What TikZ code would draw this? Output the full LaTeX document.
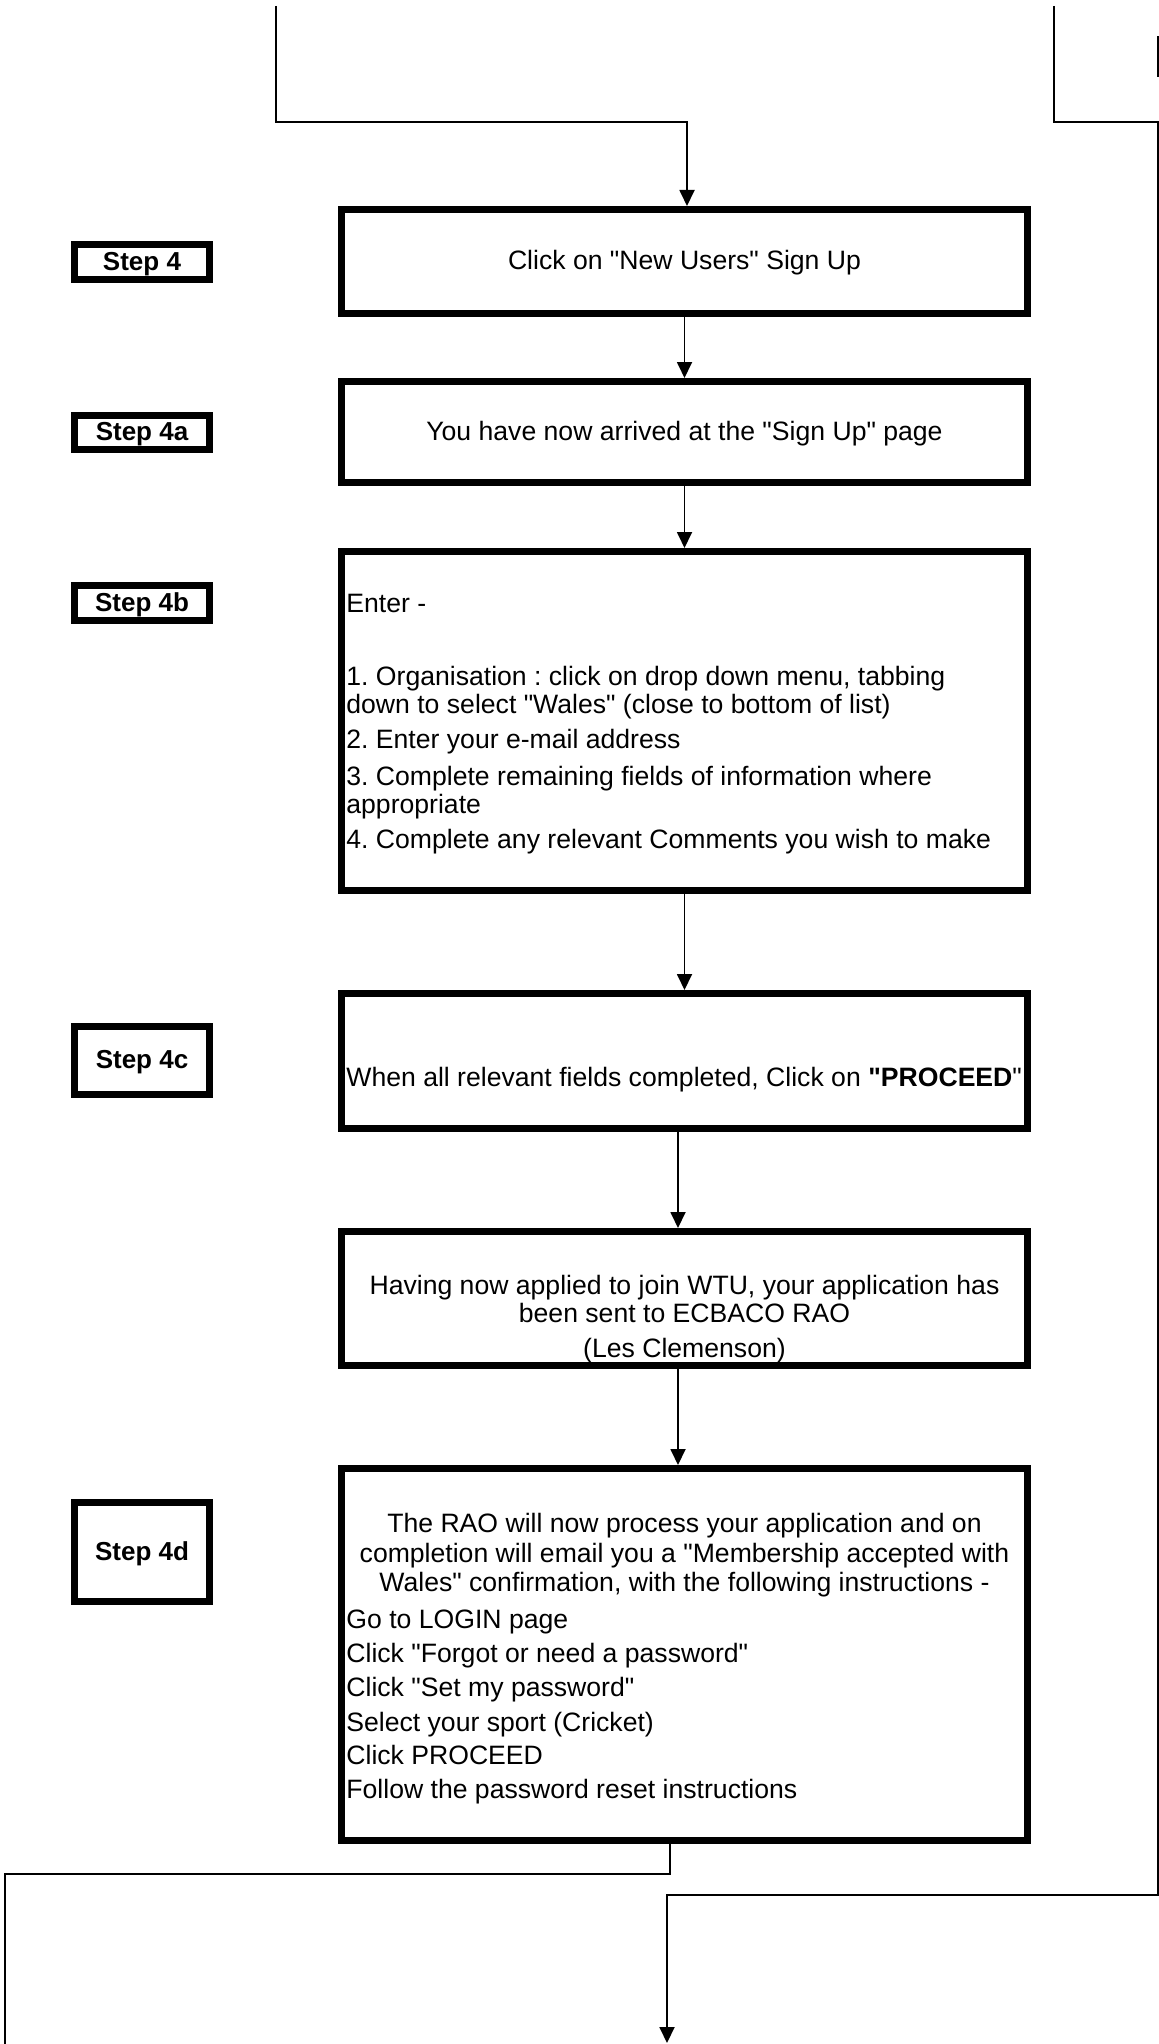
\documentclass[tikz,border=0pt]{standalone}
\usepackage{fontspec}
\setmainfont{Liberation Sans}[Ligatures=TeXOff]
\usetikzlibrary{arrows.meta}
\frenchspacing
\begin{document}
\begin{tikzpicture}[x=0.5pt,y=-0.5pt,
  every node/.style={inner sep=0pt, font=\fontsize{13.3}{14}\selectfont},
  box/.style={draw, line width=3.5pt, minimum width=343pt},
  boxtext/.style={text height=9.4pt, text depth=1pt},
  stepbox/.style={draw, line width=3.5pt, minimum width=67.5pt,
    font=\fontsize{13}{14}\selectfont\bfseries, text height=9.4pt, text depth=0.8pt},
  ln/.style={line width=0.9pt},
  arr/.style={line width=0.9pt, -{Triangle[length=8pt,width=7.5pt]}},
  txt/.style={anchor=base west},
  ctxt/.style={anchor=base}]
\useasboundingbox (0,0) rectangle (1159,2044);

% main boxes
\node[box, boxtext, minimum height=52pt]    (b1)  at (684.5,261.5)  {Click on "New Users" Sign Up};
\node[box, boxtext, minimum height=50.5pt]  (b4a) at (684.5,432)    {You have now arrived at the "Sign Up" page};
\node[box, minimum height=169.25pt]         (b4b) at (684.5,720.75) {};
\node[box, minimum height=67.25pt]          (b4c) at (684.5,1060.75) {};
\node[box, minimum height=67pt]             (bw)  at (684.5,1298.5) {};
\node[box, minimum height=186pt]            (b4d) at (684.5,1654.5) {};

% step labels
\node[stepbox, minimum height=17.35pt] (s4)  at (142,261.9)  {Step 4};
\node[stepbox, minimum height=17pt]    (s4a) at (142,432)    {Step 4a};
\node[stepbox, minimum height=17.25pt] (s4b) at (142,602.75) {Step 4b};
\node[stepbox, minimum height=33.85pt] (s4c) at (142,1060.3) {Step 4c};
\node[stepbox, minimum height=49.5pt]  (s4d) at (142,1552)   {Step 4d};

% texts of box 4b
\foreach \yy/\txtline [count=\i] in {
  612/{Enter -},
  685/{1. Organisation : click on drop down menu, tabbing},
  713/{down to select "Wales" (close to bottom of list)},
  748.5/{2. Enter your e-mail address},
  785/{3. Complete remaining fields of information where},
  813/{appropriate},
  848.5/{4. Complete any relevant Comments you wish to make}}
  \node[txt] (t4b-\i) at (346,\yy) {\txtline};

% text of box 4c
\node[txt] (t4c) at (346,1086) {When all relevant fields completed, Click on \textbf{"PROCEED}"};

% texts of WTU box
\foreach \yy/\txtline [count=\i] in {
  1294.5/{Having now applied to join WTU, your application has},
  1322.5/{been sent to ECBACO RAO},
  1357/{(Les Clemenson)}}
  \node[ctxt] (tw-\i) at (684.5,\yy) {\txtline};

% texts of box 4d
\foreach \yy/\txtline [count=\i] in {
  1532/{The RAO will now process your application and on},
  1562/{completion will email you a "Membership accepted with},
  1591.5/{Wales" confirmation, with the following instructions -}}
  \node[ctxt] (t4dc-\i) at (684.5,\yy) {\txtline};
\foreach \yy/\txtline [count=\i] in {
  1628/{Go to LOGIN page},
  1662.5/{Click "Forgot or need a password"},
  1696.5/{Click "Set my password"},
  1731/{Select your sport (Cricket)},
  1764.5/{Click PROCEED},
  1798/{Follow the password reset instructions}}
  \node[txt] (t4dl-\i) at (346,\yy) {\txtline};

% connector points
\coordinate (tl)  at (276,6);
\coordinate (tlb) at (687,122);
\coordinate (tr)  at (1054,6);
\coordinate (trc) at (1158,122);
\coordinate (bm)  at (667,1895);
\coordinate (bend) at (667,2043);
\coordinate (bl1) at (669.6,1874);
\coordinate (bl2) at (5,2044);

% connectors
\draw[arr] (tl) |- (tlb) -- (tlb |- b1.north);
\draw[arr] (b1) -- (b4a);
\draw[arr] (b4a) -- (b4b);
\draw[arr] (b4b) -- (b4c);
\draw[arr] ([xshift=-3.25pt]b4c.south) -- ([xshift=-3.25pt]bw.north);
\draw[arr] ([xshift=-3.25pt]bw.south) -- ([xshift=-3.25pt]b4d.north);
\draw[ln] ([xshift=-7.45pt]b4d.south) |- (bl1) -| (bl2);
\draw[arr] (tr) |- (trc) |- (bm) -- (bend);

% cut-off fragment at top right
\fill (1156.5,36) rectangle (1159,77);
\end{tikzpicture}
\end{document}
